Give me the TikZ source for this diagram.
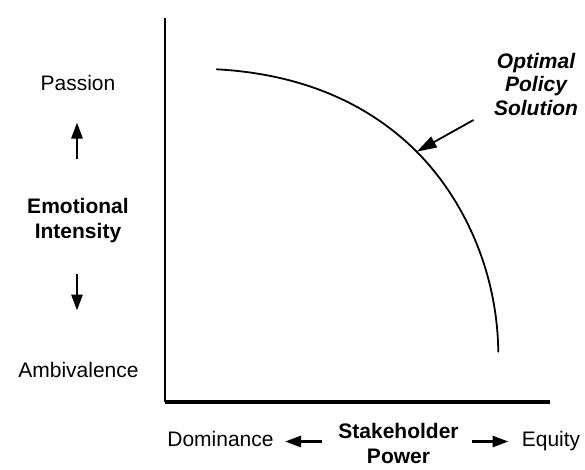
\documentclass[tikz,border=0pt]{standalone}
\usepackage{fontspec}
\setmainfont{Liberation Sans}
\usetikzlibrary{arrows.meta}
\begin{document}
\begin{tikzpicture}[x=1pt,y=-1pt,
  lbl/.style={inner sep=0pt,font=\fontsize{21}{25}\selectfont},
  blbl/.style={lbl,font=\fontsize{21}{25}\selectfont\bfseries,align=center},
  axisline/.style={line width=2.6pt},
  dirarrow/.style={line width=2.8pt,-{Triangle[length=16pt,width=11pt]}},
  pointer/.style={line width=1.8pt,-{Triangle[length=20pt,width=12pt]}},
  curve/.style={line width=1.8pt,line cap=round,line join=round}]
  \useasboundingbox (0,0) rectangle (585,469);

  % axes
  \coordinate (origin) at (165,402);
  \coordinate (ytop) at (165,18);
  \coordinate (xend) at (550,402);
  \draw[axisline] (ytop) -- (origin);
  \draw[axisline,line width=3.4pt] (origin) -- (xend);

  % trade-off frontier
  \coordinate (cstart) at (216.7,69.3);
  \coordinate (opt) at (416.7,151.7);
  \coordinate (cend) at (498.3,351.7);
  \draw[curve] (cstart) .. controls (306.7,74.2) and (371.7,106.7) .. (opt)
    .. controls (456.7,191.7) and (497,261.7) .. (cend);

  % vertical axis labels
  \node[lbl,anchor=base] (passion) at (78,90.5) {Passion};
  \node[lbl,anchor=base] (ambiv) at (78.5,377.5) {Ambivalence};
  \node[blbl,anchor=base] (emo) at (78,238) {Emotional\\Intensity};
  \coordinate (upfrom) at (77,159);
  \coordinate (upto) at (77,122.5);
  \coordinate (dnfrom) at (77,274);
  \coordinate (dnto) at (77,310.5);
  \draw[dirarrow] (upfrom) -- (upto);
  \draw[dirarrow] (dnfrom) -- (dnto);

  % horizontal axis labels
  \node[lbl,anchor=base] (dom) at (220.5,446.5) {Dominance};
  \node[lbl,anchor=base] (eq) at (551,446.5) {Equity};
  \node[blbl,anchor=base] (power) at (398.5,463) {Stakeholder\\Power};
  \coordinate (lfrom) at (322,441.5);
  \coordinate (lto) at (285,441.5);
  \coordinate (rfrom) at (471.5,441.5);
  \coordinate (rto) at (508.5,441.5);
  \draw[dirarrow] (lfrom) -- (lto);
  \draw[dirarrow] (rfrom) -- (rto);

  % callout
  \node[blbl,font=\fontsize{21}{23.5}\selectfont\bfseries\itshape,anchor=base] (ops) at (536,115) {Optimal\\Policy\\Solution};
  \coordinate (opsfrom) at (473.5,120);
  \draw[pointer] (opsfrom) -- (opt);
\end{tikzpicture}
\end{document}
